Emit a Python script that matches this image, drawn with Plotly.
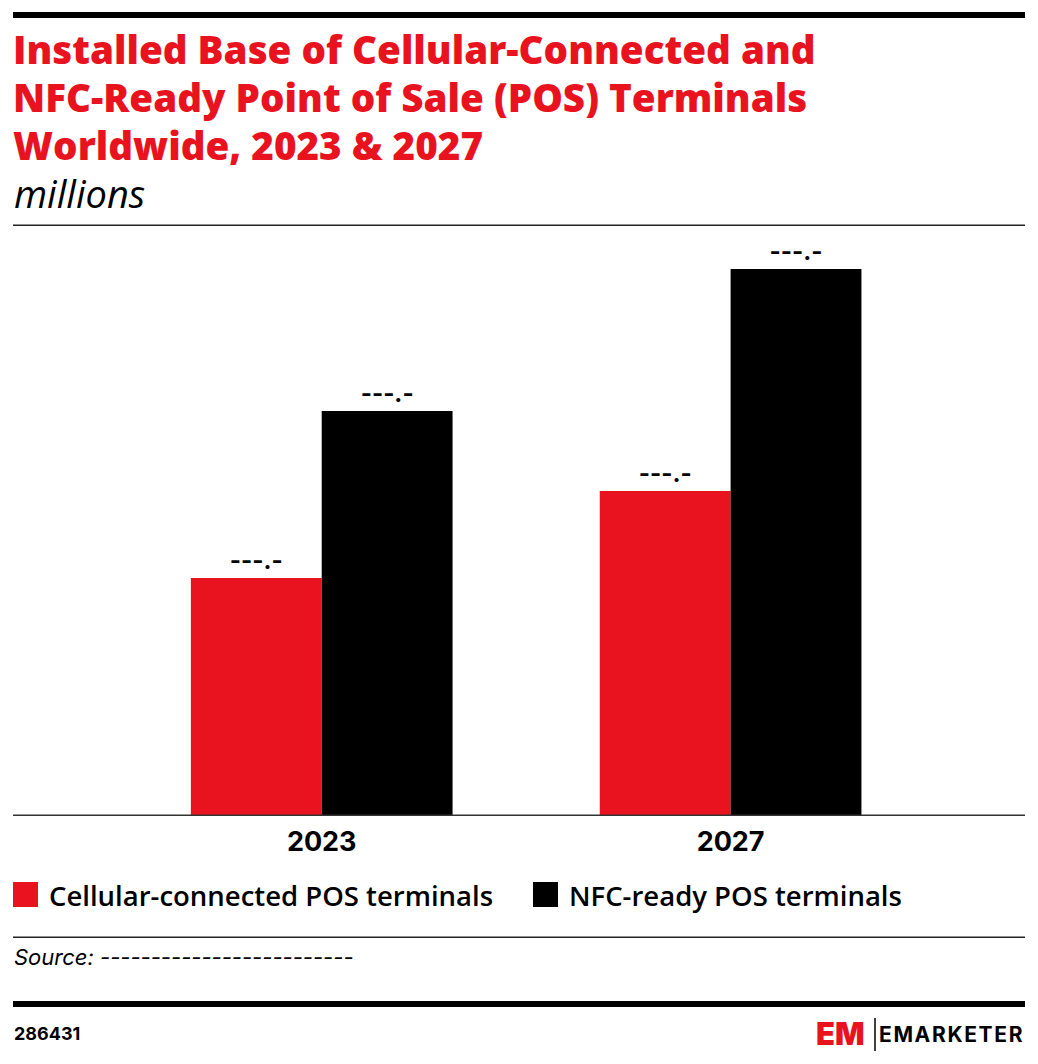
import plotly.graph_objects as go

years = ['2023', '2027']
cellular = [237, 324]
nfc = [404, 546]
value_label = '---.-'
title_lines = ['Installed Base of Cellular-Connected and',
               'NFC-Ready Point of Sale (POS) Terminals',
               'Worldwide, 2023 & 2027']

RED = '#E8131E'
W, H = 1038, 1064
L, R, T, B = 13, 13, 240, 249
plot_w = W - L - R
plot_h = H - T - B
FONT = 'Inter'
TFONT = 'Open Sans'


def px_x(x):
    return (x - L) / plot_w


def px_y(y):
    return (H - B - y) / plot_h


fig = go.Figure()
fig.add_trace(go.Bar(x=[0, 1], y=cellular, name='Cellular-connected POS terminals',
                     marker=dict(color=RED, line=dict(width=0)),
                     text=[value_label] * 2, textposition='outside', cliponaxis=False,
                     textfont=dict(family=FONT, size=24, color='black', weight=700)))
fig.add_trace(go.Bar(x=[0, 1], y=nfc, name='NFC-ready POS terminals',
                     marker=dict(color='black', line=dict(width=0)),
                     text=[value_label] * 2, textposition='outside', cliponaxis=False,
                     textfont=dict(family=FONT, size=24, color='black', weight=700)))

fig.update_layout(
    width=W, height=H,
    margin=dict(l=L, r=R, t=T, b=B),
    paper_bgcolor='white', plot_bgcolor='white',
    barmode='group', bargap=0.36, bargroupgap=0,
    showlegend=False, hovermode=False,
    font=dict(family=FONT, color='black'),
)
fig.update_xaxes(range=[-0.755, 1.72], tickvals=[0, 1], ticktext=years,
                 showgrid=False, zeroline=False, showline=False, ticks='',
                 ticklabelstandoff=8,
                 tickfont=dict(family=FONT, size=27, color='black', weight=700))
fig.update_yaxes(range=[0, plot_h], visible=False, showgrid=False)

# rules
rules = [(12, 18, 'black'), (224.5, 226, '#222'), (814.5, 816, '#333'),
         (936.5, 938, '#222'), (1001, 1007, 'black')]
for y0, y1, c in rules:
    fig.add_shape(type='rect', xref='paper', yref='paper',
                  x0=px_x(13), x1=px_x(1025), y0=px_y(y1), y1=px_y(y0),
                  fillcolor=c, line=dict(width=0), layer='above')

# title block
for i, line in enumerate(title_lines):
    fig.add_annotation(xref='paper', yref='paper', x=px_x(11), y=px_y(49 + 48 * i),
                       xanchor='left', yanchor='middle', showarrow=False, text=line,
                       font=dict(family=TFONT, size=38.6, color=RED, weight=800))
fig.add_annotation(xref='paper', yref='paper', x=px_x(12), y=px_y(193), xanchor='left', yanchor='middle',
                   showarrow=False, text='<i>millions</i>',
                   font=dict(family=TFONT, size=38, color='black'))

# legend
legend = [(13, RED, 'Cellular-connected POS terminals'), (533, 'black', 'NFC-ready POS terminals')]
for x0, c, label in legend:
    fig.add_shape(type='rect', xref='paper', yref='paper',
                  x0=px_x(x0), x1=px_x(x0 + 25), y0=px_y(907), y1=px_y(882),
                  fillcolor=c, line=dict(width=0))
    fig.add_annotation(xref='paper', yref='paper', x=px_x(x0 + 34), y=px_y(895),
                       xanchor='left', yanchor='middle', showarrow=False, text=label,
                       font=dict(family=TFONT, size=27.5, color='black', weight=600))

# footer
fig.add_annotation(xref='paper', yref='paper', x=px_x(12), y=px_y(957), xanchor='left', yanchor='middle',
                   showarrow=False, text='<i>Source: -------------------------</i>',
                   font=dict(family=FONT, size=22, color='black'))
fig.add_annotation(xref='paper', yref='paper', x=px_x(12), y=px_y(1033), xanchor='left', yanchor='middle',
                   showarrow=False, text='286431',
                   font=dict(family=FONT, size=18, color='black', weight=700))
fig.add_annotation(xref='paper', yref='paper', x=px_x(867), y=px_y(1033), xanchor='right', yanchor='middle',
                   showarrow=False, text='EM',
                   font=dict(family=FONT, size=31, color=RED, weight=900))
fig.add_shape(type='line', xref='paper', yref='paper', x0=px_x(875), x1=px_x(875),
              y0=px_y(1051), y1=px_y(1018), line=dict(color='black', width=1.5))
fig.add_annotation(xref='paper', yref='paper', x=px_x(1025), y=px_y(1034), xanchor='right', yanchor='middle',
                   showarrow=False, text='E M A R K E T E R'.replace(' ', '\u200a'),
                   font=dict(family=FONT, size=21, color='black', weight=700))

fig.write_html('out.html', config=dict(displayModeBar=False),
               post_script="document.body.style.margin='0';")
